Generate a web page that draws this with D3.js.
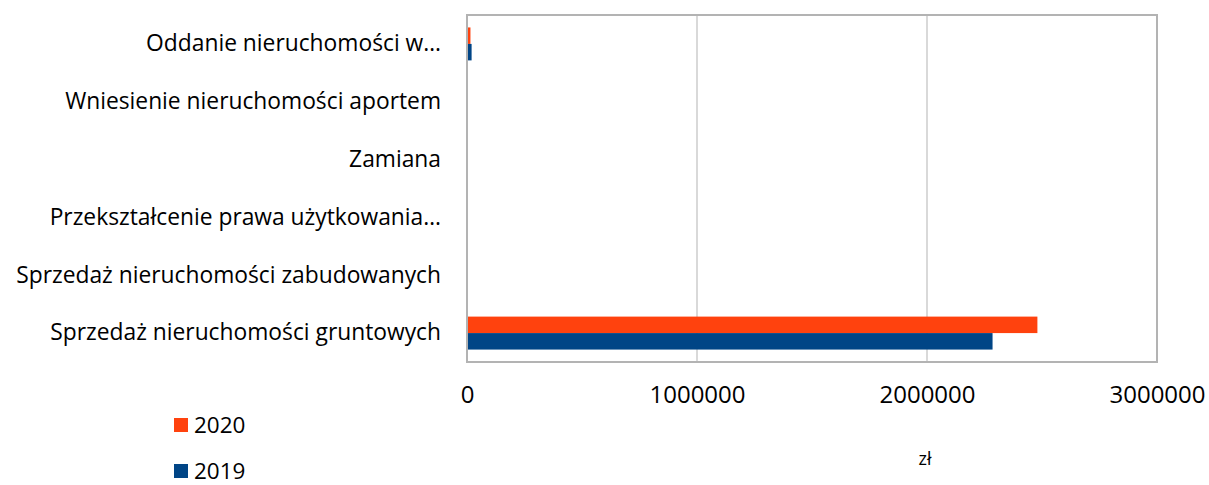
<!DOCTYPE html>
<html><head><meta charset="utf-8">
<script src="https://cdn.jsdelivr.net/npm/d3@7"></script>
<style>body{margin:0;background:#fff}svg{display:block}text{font-family:"Open Sans",sans-serif;fill:#000}</style>
</head><body><svg id="c" width="1209" height="485"></svg>
<script>
const categories = ["Sprzedaż nieruchomości gruntowych","Sprzedaż nieruchomości zabudowanych","Przekształcenie prawa użytkowania…","Zamiana","Wniesienie nieruchomości aportem","Oddanie nieruchomości w…"];
const values2020 = [2480000, 0, 0, 0, 0, 15000];
const values2019 = [2285000, 0, 0, 0, 0, 20000];
const seriesNames = ["2020","2019"];
const colors = ["#ff420e","#004586"];
const xTicks = [0,1000000,2000000,3000000];
const unitLabel = "zł";

const svg = d3.select("#c");
const L=467, R=1157, T=15, B=362;
const x = d3.scaleLinear().domain([0,3000000]).range([L,R]);
const y = d3.scaleBand().domain(categories.slice().reverse()).range([T,B]).paddingInner(0.43).paddingOuter(0.215);
const inner = d3.scaleBand().domain(seriesNames).range([0,y.bandwidth()]);

svg.append("g").selectAll("line").data(xTicks.slice(1,-1)).join("line")
  .attr("x1",d=>x(d)).attr("x2",d=>x(d)).attr("y1",T).attr("y2",B)
  .attr("stroke","#c0c0c0").attr("stroke-width",1.2);

const data = categories.map((c,i)=>({c, v:[values2020[i],values2019[i]]}));
const g = svg.append("g");
data.forEach(d=>{
  seriesNames.forEach((s,j)=>{
    if(d.v[j]<=0) return;
    g.append("rect").attr("x",x(0)).attr("y",y(d.c)+inner(s))
     .attr("width",x(d.v[j])-x(0)).attr("height",inner.bandwidth())
     .attr("fill",colors[j]);
  });
});

svg.append("rect").attr("x",L).attr("y",T).attr("width",R-L).attr("height",B-T)
  .attr("fill","none").attr("stroke","#b3b3b3").attr("stroke-width",2);

const xa = svg.append("g").attr("transform",`translate(0,${B})`)
  .call(d3.axisBottom(x).tickValues(xTicks).tickFormat(d3.format("d")).tickSize(0).tickPadding(24));
xa.select(".domain").remove();
xa.selectAll("text").style("font-size","24px").style("font-family","'Open Sans',sans-serif").attr("fill","#000");

const ya = svg.append("g").attr("transform",`translate(${L},0)`)
  .call(d3.axisLeft(y).tickSize(0).tickPadding(26));
ya.select(".domain").remove();
ya.selectAll("text").style("font-size","22.8px").style("font-family","'Open Sans',sans-serif").attr("fill","#000");

svg.append("text").attr("x",925).attr("y",465).attr("text-anchor","middle").style("font-size","18px").text(unitLabel);

seriesNames.forEach((s,i)=>{
  const yy = 418 + i*46;
  svg.append("rect").attr("x",174).attr("y",yy).attr("width",14).attr("height",14).attr("fill",colors[i]);
  svg.append("text").attr("x",194).attr("y",yy+15).style("font-size","22.5px").text(s);
});
</script></body></html>
